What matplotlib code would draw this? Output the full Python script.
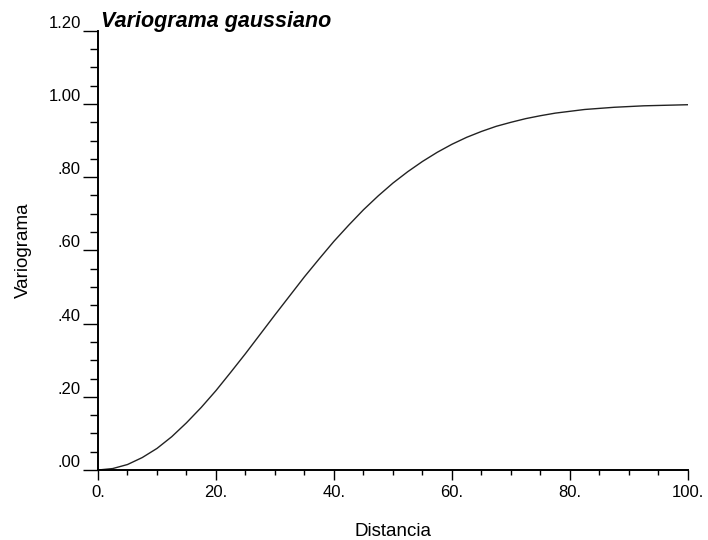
import numpy as np
import matplotlib.pyplot as plt
from matplotlib.ticker import MultipleLocator, FixedLocator

plt.rcParams['font.family'] = ['Liberation Sans', 'DejaVu Sans']

# distance (lag) and variogram values
distancia = [0, 2.5, 5, 7.5, 10, 12.5, 15, 17.5, 20, 22.5, 25, 27.5, 30, 32.5, 35,
             37.5, 40, 42.5, 45, 47.5, 50, 52.5, 55, 57.5, 60, 62.5, 65, 67.5, 70,
             72.5, 75, 77.5, 80, 82.5, 85, 87.5, 90, 92.5, 95, 97.5, 100]
variograma = [0.0, 0.004, 0.015, 0.034, 0.059, 0.091, 0.129, 0.171, 0.217, 0.267,
              0.318, 0.371, 0.424, 0.476, 0.528, 0.577, 0.625, 0.669, 0.711, 0.749,
              0.784, 0.815, 0.843, 0.868, 0.890, 0.909, 0.925, 0.939, 0.950, 0.960,
              0.968, 0.975, 0.980, 0.985, 0.988, 0.991, 0.993, 0.995, 0.996, 0.997,
              0.998]

xticks = [0, 20, 40, 60, 80, 100]
xticklabels = ['0.', '20.', '40.', '60.', '80.', '100.']
yticks = [0, 0.2, 0.4, 0.6, 0.8, 1.0, 1.2]
yticklabels = ['.00', '.20', '.40', '.60', '.80', '1.00', '1.20']

fig = plt.figure(figsize=(7.08, 5.4), dpi=100)
ax = fig.add_axes((0.1384, 0.1296, 0.8333, 0.8134))

ax.plot(distancia, variograma, color='#222222', lw=1.0)

ax.set_xlim(0, 100)
ax.set_ylim(0, 1.2)
ax.spines['top'].set_visible(False)
ax.spines['right'].set_visible(False)
ax.spines['left'].set_linewidth(1.4)
ax.spines['bottom'].set_linewidth(1.4)

ax.xaxis.set_major_locator(FixedLocator(xticks))
ax.set_xticklabels(xticklabels)
ax.xaxis.set_minor_locator(MultipleLocator(5))
ax.yaxis.set_major_locator(FixedLocator(yticks))
ax.set_yticklabels(yticklabels)
ax.yaxis.set_minor_locator(MultipleLocator(0.05))

ax.tick_params(axis='x', which='major', length=7, width=1.0, pad=4, labelsize=12)
ax.tick_params(axis='x', which='minor', length=3.5, width=1.0)
ax.tick_params(axis='y', which='major', length=10.5, width=1.0, pad=2, labelsize=12)
ax.tick_params(axis='y', which='minor', length=6, width=1.0)
for t in ax.get_yticklabels():
    t.set_verticalalignment('bottom')

ax.set_xlabel('Distancia', fontsize=13.5, labelpad=16)
ax.set_ylabel('Variograma', fontsize=13.5, labelpad=12)

ax.text(0.005, 1.008, 'Variograma gaussiano', transform=ax.transAxes,
        fontsize=15.5, fontweight='bold', fontstyle='italic', va='baseline', ha='left')

fig.savefig('out.png', dpi=100)
